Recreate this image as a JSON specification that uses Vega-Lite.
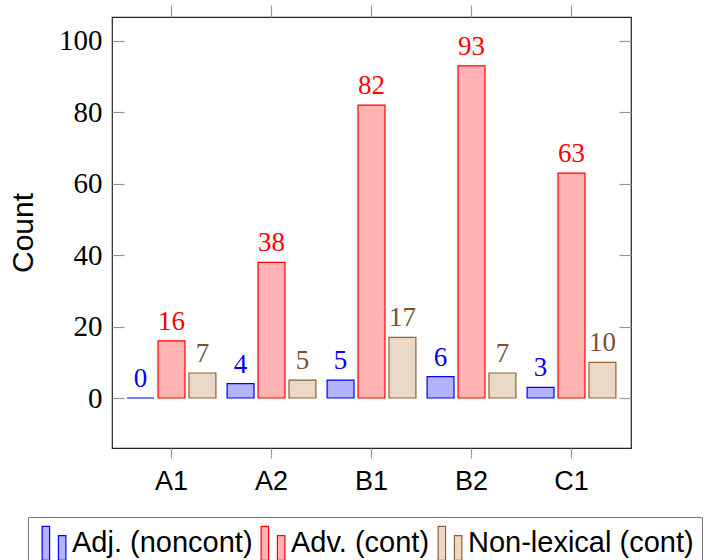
{
  "$schema": "https://vega.github.io/schema/vega-lite/v6.json",
  "autosize": "none",
  "width": 519,
  "height": 431,
  "padding": {"left": 112, "top": 17, "right": 79, "bottom": 112},
  "background": "white",
  "data": {
    "values": [
      {"level": "A1", "cat": "Adj. (noncont)", "count": 0},
      {"level": "A1", "cat": "Adv. (cont)", "count": 16},
      {"level": "A1", "cat": "Non-lexical (cont)", "count": 7},
      {"level": "A2", "cat": "Adj. (noncont)", "count": 4},
      {"level": "A2", "cat": "Adv. (cont)", "count": 38},
      {"level": "A2", "cat": "Non-lexical (cont)", "count": 5},
      {"level": "B1", "cat": "Adj. (noncont)", "count": 5},
      {"level": "B1", "cat": "Adv. (cont)", "count": 82},
      {"level": "B1", "cat": "Non-lexical (cont)", "count": 17},
      {"level": "B2", "cat": "Adj. (noncont)", "count": 6},
      {"level": "B2", "cat": "Adv. (cont)", "count": 93},
      {"level": "B2", "cat": "Non-lexical (cont)", "count": 7},
      {"level": "C1", "cat": "Adj. (noncont)", "count": 3},
      {"level": "C1", "cat": "Adv. (cont)", "count": 63},
      {"level": "C1", "cat": "Non-lexical (cont)", "count": 10}
    ]
  },
  "layer": [
    {
      "mark": {"type": "bar", "strokeWidth": 1.2, "opacity": 1},
      "encoding": {
        "x": {
          "field": "level", "type": "nominal", "sort": ["A1", "A2", "B1", "B2", "C1"],
          "scale": {"paddingInner": 0.05, "paddingOuter": 0.12},
          "axis": {"orient": "bottom", "title": null, "labelAngle": 0, "tickSize": 10, "tickColor": "#999", "tickWidth": 1.2, "domain": false,
                   "labelFont": "Liberation Sans", "labelFontSize": 27, "labelColor": "#000", "labelPadding": 10}
        },
        "xOffset": {
          "field": "cat", "type": "nominal",
          "scale": {"domain": ["Adj. (noncont)", "Adv. (cont)", "Non-lexical (cont)"], "paddingInner": 0.13, "paddingOuter": 0.1}
        },
        "y": {
          "field": "count", "type": "quantitative",
          "scale": {"domain": [-14, 106.7], "nice": false, "zero": false},
          "axis": {"orient": "left", "title": "Count", "values": [0, 20, 40, 60, 80, 100], "grid": false, "domain": false,
                   "tickSize": -12, "tickColor": "#999", "tickWidth": 1.2,
                   "labelFont": "Liberation Serif", "labelFontSize": 29, "labelColor": "#000", "labelPadding": 22,
                   "titleFont": "Liberation Sans", "titleFontSize": 30, "titleFontWeight": "normal", "titleColor": "#000", "titlePadding": 20}
        },
        "fill": {
          "field": "cat", "type": "nominal",
          "scale": {"domain": ["Adj. (noncont)", "Adv. (cont)", "Non-lexical (cont)"], "range": ["#b3b3ff", "#ffb3b3", "#ead9c6"]},
          "legend": {"title": null, "orient": "none", "legendX": -84, "legendY": 500, "direction": "horizontal",
                     "symbolType": "M-0.7,-1H-0.26V1H-0.7Z M0.26,-0.45H0.7V1H0.26Z", "symbolSize": 1156, "symbolStrokeWidth": 1.2,
                     "labelFont": "Liberation Sans", "labelFontSize": 29, "labelColor": "#000", "labelOffset": 0, "columnPadding": 2,
                     "labelLimit": 400, "strokeColor": "#777", "padding": 8, "fillColor": "white"}
        },
        "stroke": {
          "field": "cat", "type": "nominal",
          "scale": {"domain": ["Adj. (noncont)", "Adv. (cont)", "Non-lexical (cont)"], "range": ["#0000ff", "#ff0000", "#8c6239"]},
          "legend": {"title": null, "orient": "none", "legendX": -84, "legendY": 500, "direction": "horizontal",
                     "symbolType": "M-0.7,-1H-0.26V1H-0.7Z M0.26,-0.45H0.7V1H0.26Z", "symbolSize": 1156, "symbolStrokeWidth": 1.2,
                     "labelFont": "Liberation Sans", "labelFontSize": 29, "labelColor": "#000", "labelOffset": 0, "columnPadding": 2,
                     "labelLimit": 400, "strokeColor": "#777", "padding": 8, "fillColor": "white"}
        }
      }
    },
    {
      "mark": {"type": "text", "baseline": "alphabetic", "dy": -11, "font": "Liberation Serif", "fontSize": 27},
      "encoding": {
        "x": {
          "field": "level", "type": "nominal", "sort": ["A1", "A2", "B1", "B2", "C1"],
          "axis": {"orient": "top", "title": null, "labels": false, "tickSize": 12, "tickColor": "#999", "tickWidth": 1.2, "domain": false}
        },
        "xOffset": {"field": "cat", "type": "nominal"},
        "y": {
          "field": "count", "type": "quantitative",
          "axis": {"orient": "right", "title": null, "labels": false, "values": [0, 20, 40, 60, 80, 100], "grid": false, "domain": false,
                   "tickSize": -12, "tickColor": "#999", "tickWidth": 1.2}
        },
        "text": {"field": "count", "type": "quantitative"},
        "color": {
          "field": "cat", "type": "nominal",
          "scale": {"domain": ["Adj. (noncont)", "Adv. (cont)", "Non-lexical (cont)"], "range": ["#0000ff", "#ff0000", "#7a5230"]},
          "legend": null
        }
      }
    }
  ],
  "resolve": {"axis": {"x": "independent", "y": "independent"}},
  "config": {
    "view": {"stroke": "#222", "strokeWidth": 1.2}
  }
}
